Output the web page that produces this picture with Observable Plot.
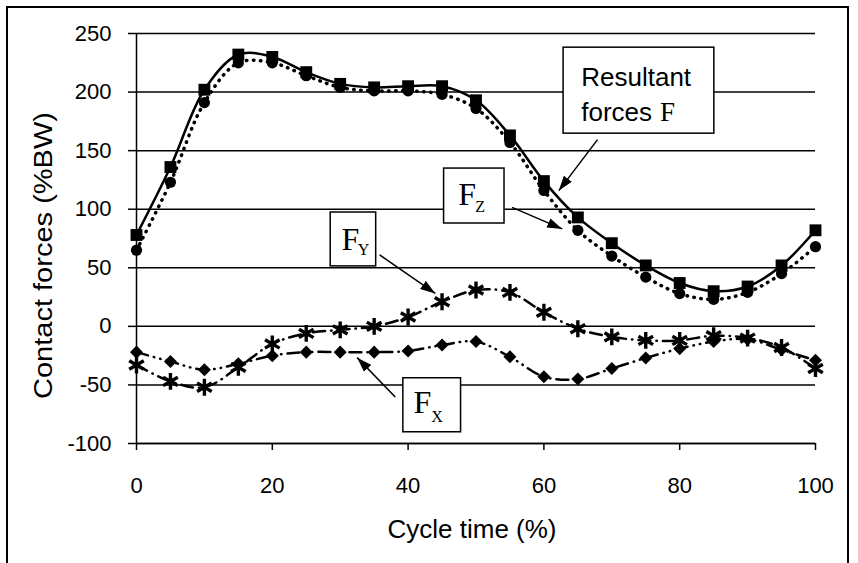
<!DOCTYPE html>
<html><head><meta charset="utf-8">
<script src="https://cdn.jsdelivr.net/npm/d3@7"></script>
<script src="https://cdn.jsdelivr.net/npm/@observablehq/plot@0.6"></script>
<style>
html,body{margin:0;padding:0;background:#fff;overflow:hidden;}
#wrap{position:relative;width:858px;height:563px;}
#border{position:absolute;left:6px;top:6px;width:843px;height:620px;border:2px solid #000;box-sizing:border-box;}
#chart{position:absolute;left:0;top:0;}
</style></head><body>
<div id="wrap"><div id="border"></div><div id="chart"></div></div>
<script>
// ---- data ----
const cycle = [0,5,10,15,20,25,30,35,40,45,50,55,60,65,70,75,80,85,90,95,100];
const resultantF = [78,136,202,232,230,217,207,204,205,205,193,163,124,93,71,52,37,30,34,52,82];
const forceZ = [65,123,191,225,225,214,204,201,201,198,186,157,116,82,60,42,28,23,29,45,68];
const forceY = [-33,-47,-52,-35,-15,-6,-3,0,8,21,31,29,12,-2,-9,-12,-12,-8,-10,-18,-36];
const forceX = [-22,-30,-37,-32,-25,-22,-22,-22,-21,-16,-13,-26,-43,-45,-36,-27,-19,-13,-11,-20,-29];
const xTicks = [0,20,40,60,80,100];
const yTicks = [-100,-50,0,50,100,150,200,250];

// annotation boxes and arrows (data units)
const boxes = [
  {x1:62.9, x2:85.1, y1:164.5, y2:237.9},
  {x1:45.3, x2:54.2, y1:87.8, y2:134.7},
  {x1:28.6, x2:35.3, y1:51.2, y2:97.2},
  {x1:39.3, x2:47.8, y1:-90.4, y2:-44.3}
];
const sansLabels = [
  {x:65.5, y:205.5, t:"Resultant"},
  {x:65.5, y:175.6, t:"forces"}
];
const serifLabels = [
  {x:77.1, y:175.6, t:"F", s:27},
  {x:47.4, y:103.2, t:"F", s:32},
  {x:30.2, y:65.6, t:"F", s:32},
  {x:40.8, y:-74.2, t:"F", s:32}
];
const subLabels = [
  {x:49.9, y:97.4, t:"Z"},
  {x:32.6, y:60.5, t:"Y"},
  {x:43.4, y:-81.6, t:"X"}
];
const arrows = [
  {x1:67.9, y1:159.4, x2:62.2, y2:115.9},
  {x1:55.3, y1:101.6, x2:62.7, y2:83.2},
  {x1:35.8, y1:61.1, x2:44.0, y2:28.1},
  {x1:38.1, y1:-60.3, x2:32.5, y2:-26.7}
];

const toRows = vals => cycle.map((c, i) => ({cycle: c, value: vals[i]}));
const dF = toRows(resultantF), dZ = toRows(forceZ), dY = toRows(forceY), dX = toRows(forceX);
const sans = "'Liberation Sans', Arial, sans-serif";
const serif = "'Liberation Serif', 'Times New Roman', serif";

const plot = Plot.plot({
  width: 858, height: 563,
  marginLeft: 136, marginRight: 43, marginTop: 33, marginBottom: 120,
  style: {fontFamily: sans, fontSize: "22px", color: "#000", background: "transparent", overflow: "visible"},
  x: {domain: [0, 100]},
  y: {domain: [-100, 250]},
  marks: [
    Plot.gridY(yTicks, {stroke: "#000", strokeOpacity: 1, strokeWidth: 1.5}),
    Plot.axisY(yTicks, {tickSize: 8, tickPadding: 17, label: null, fontSize: 22, strokeWidth: 1.5, tickFormat: d => d}),
    Plot.axisX(xTicks, {tickSize: 7, tickPadding: 27, label: null, fontSize: 22, strokeWidth: 1.5, tickFormat: d => d}),
    Plot.ruleX([0], {y1: -100, y2: 250, stroke: "#000", strokeWidth: 1.5}),
    Plot.ruleY([-100], {stroke: "#000", strokeWidth: 1.5}),
    // series lines
    Plot.line(dX, {x: "cycle", y: "value", curve: "catmull-rom", stroke: "#000", strokeWidth: 2.5, strokeDasharray: "12 6 0.5 6 0.5 6", strokeLinecap: "round"}),
    Plot.line(dY, {x: "cycle", y: "value", curve: "catmull-rom", stroke: "#000", strokeWidth: 2.5, strokeDasharray: "12 6 0.5 6", strokeLinecap: "round"}),
    Plot.line(dZ, {x: "cycle", y: "value", curve: "catmull-rom", stroke: "#000", strokeWidth: 3.5, strokeDasharray: "0.5 6.5", strokeLinecap: "round"}),
    Plot.line(dF, {x: "cycle", y: "value", curve: "catmull-rom", stroke: "#000", strokeWidth: 2.5}),
    // markers
    Plot.dot(dX, {x: "cycle", y: "value", symbol: "square", r: 5.2, rotate: 45, fill: "#000", stroke: "none"}),
    Plot.dot(dY, {x: "cycle", y: "value", symbol: "asterisk", r: 8, stroke: "#000", strokeWidth: 3.4, fill: "none"}),
    Plot.dot(dZ, {x: "cycle", y: "value", symbol: "circle", r: 5.6, fill: "#000", stroke: "none"}),
    Plot.dot(dF, {x: "cycle", y: "value", symbol: "square", r: 6.7, fill: "#000", stroke: "none"}),
    // annotations
    Plot.link(arrows, {x1: "x1", y1: "y1", x2: "x2", y2: "y2", stroke: "#000", strokeWidth: 1.5, className: "ann-arrow"}),
    Plot.rect(boxes, {x1: "x1", x2: "x2", y1: "y1", y2: "y2", fill: "#fff", stroke: "#000", strokeWidth: 1.5}),
    Plot.text(sansLabels, {x: "x", y: "y", text: "t", textAnchor: "start", lineAnchor: "bottom", fontSize: 26, fontFamily: sans, fill: "#000"}),
    Plot.text(serifLabels, {x: "x", y: "y", text: "t", textAnchor: "start", lineAnchor: "bottom", fontSize: "s", fontFamily: serif, fill: "#000"}),
    Plot.text(subLabels, {x: "x", y: "y", text: "t", textAnchor: "start", lineAnchor: "bottom", fontSize: 16, fontFamily: serif, fill: "#000"}),
    // axis titles
    Plot.text(["Cycle time (%)"], {text: d => d, frameAnchor: "bottom", dx: -4, dy: 94, lineAnchor: "bottom", fontSize: 26, fill: "#000"}),
    Plot.text(["Contact forces (%BW)"], {text: d => d, frameAnchor: "left", rotate: -90, dx: -93, dy: 17, fontSize: 26, fill: "#000", className: "ytitle"})
  ]
});

const svg = d3.select(plot);
const defs = svg.insert("defs", ":first-child");
defs.append("marker").attr("id", "ah").attr("viewBox", "0 0 10 10").attr("refX", 10).attr("refY", 5)
  .attr("markerWidth", 15).attr("markerHeight", 10).attr("markerUnits", "userSpaceOnUse")
  .attr("preserveAspectRatio", "none").attr("orient", "auto")
  .append("path").attr("d", "M0,0L10,5L0,10Z").attr("fill", "#000");
svg.selectAll(".ann-arrow path").attr("marker-end", "url(#ah)");
svg.selectAll(".ytitle text")
  .attr("text-anchor", "start").attr("x", -143.5)
  .attr("textLength", 287).attr("lengthAdjust", "spacingAndGlyphs");
document.getElementById("chart").appendChild(plot);
</script>
</body></html>
